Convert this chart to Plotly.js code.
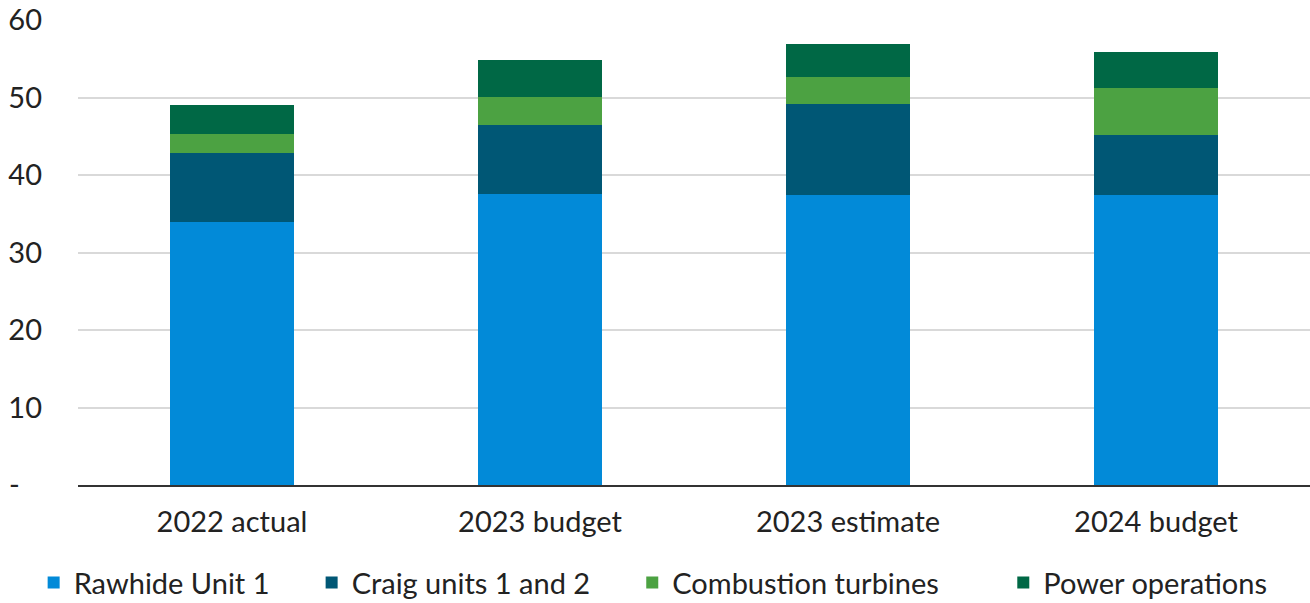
<!DOCTYPE html>
<html>
<head>
<meta charset="utf-8">
<script src="https://cdn.plot.ly/plotly-3.0.1.min.js"></script>
<style>html,body{margin:0;padding:0;background:#fff;}#chart{width:1310px;height:603px;}</style>
</head>
<body>
<div id="chart"></div>
<script>
const categories = ["2022 actual", "2023 budget", "2023 estimate", "2024 budget"];
const rawhideUnit1 = [33.9, 37.5, 37.4, 37.4];
const craigUnits = [8.9, 8.9, 11.8, 7.7];
const combustionTurbines = [2.5, 3.7, 3.4, 6.1];
const powerOperations = [3.7, 4.7, 4.3, 4.7];
const yTickVals = [0, 10, 20, 30, 40, 50, 60];
const yTickText = ["-\u00a0\u00a0\u00a0", "10", "20", "30", "40", "50", "60"];

const seriesNames = ["Rawhide Unit 1", "Craig units 1 and 2", "Combustion turbines", "Power operations"];
const seriesValues = [rawhideUnit1, craigUnits, combustionTurbines, powerOperations];
const seriesColors = ["#028AD8", "#005775", "#4CA242", "#006845"];

const FONT = "Lato, 'Open Sans', sans-serif";
const FS = 29;
const legendPadCounts = [5, 5, 8, 0];

const traces = seriesNames.map((name, i) => ({
  type: "bar",
  name: name + "\u00a0".repeat(legendPadCounts[i]),
  x: categories,
  y: seriesValues[i],
  marker: {color: seriesColors[i], line: {width: 0}},
  hoverinfo: "x+y"
}));

const layout = {
  width: 1310,
  height: 603,
  margin: {l: 78, r: 0, t: 20, b: 118, autoexpand: false},
  paper_bgcolor: "#fff",
  plot_bgcolor: "#fff",
  barmode: "stack",
  bargap: 0.597,
  font: {family: FONT, size: FS, color: "#222"},
  showlegend: true,
  legend: {
    orientation: "h",
    traceorder: "normal",
    x: -0.036,
    xanchor: "left",
    y: -0.21,
    yanchor: "middle",
    font: {family: FONT, size: FS, color: "#222"},
    itemwidth: 30
  },
  xaxis: {
    type: "category",
    showgrid: false,
    showline: true,
    linecolor: "#333",
    linewidth: 2,
    ticks: "",
    tickfont: {family: FONT, size: FS, color: "#222"},
    ticklabelstandoff: 10
  },
  yaxis: {
    range: [0, 60],
    tickvals: yTickVals,
    ticktext: yTickText,
    showgrid: true,
    gridcolor: "#d9d9d9",
    gridwidth: 2,
    zeroline: false,
    showline: false,
    ticks: "",
    tickfont: {family: FONT, size: FS, color: "#222"},
    ticklabelstandoff: 35
  }
};

Plotly.newPlot("chart", traces, layout, {displayModeBar: false, staticPlot: true});
</script>
</body>
</html>
